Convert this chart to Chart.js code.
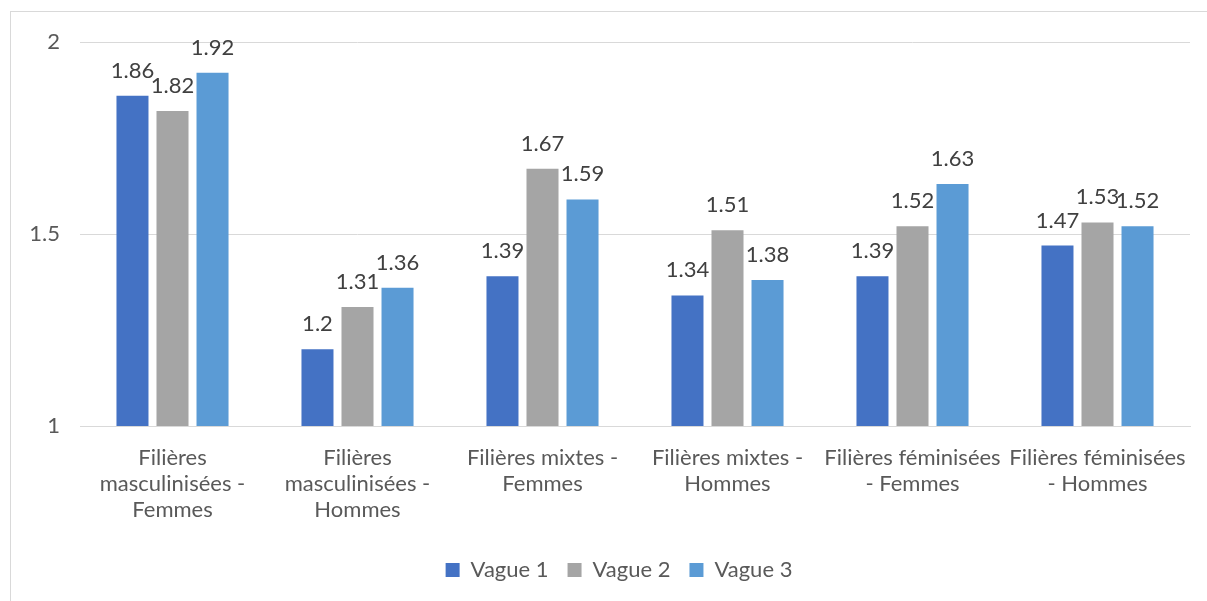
<!DOCTYPE html>
<html>
<head>
<meta charset="utf-8">
<script src="https://cdn.jsdelivr.net/npm/chart.js@4/dist/chart.umd.min.js"></script>
<style>
  html, body { margin: 0; padding: 0; background: #fff; }
  #wrap { width: 1207px; height: 601px; position: relative; }
</style>
</head>
<body>
<div id="wrap"><canvas id="myChart" width="1207" height="601"></canvas></div>
<script>
  const categories = [
    ['Filières', 'masculinisées -', 'Femmes'],
    ['Filières', 'masculinisées -', 'Hommes'],
    ['Filières mixtes -', 'Femmes'],
    ['Filières mixtes -', 'Hommes'],
    ['Filières féminisées', '- Femmes'],
    ['Filières féminisées', '- Hommes']
  ];
  const vague1 = [1.86, 1.2, 1.39, 1.34, 1.39, 1.47];
  const vague2 = [1.82, 1.31, 1.67, 1.51, 1.52, 1.53];
  const vague3 = [1.92, 1.36, 1.59, 1.38, 1.63, 1.52];
  const yTicks = [1, 1.5, 2];

  const fontFamily = 'Lato, "Open Sans", sans-serif';
  const fontSize = 22;

  // cadre gris autour du graphique
  const cadre = {
    id: 'cadre',
    beforeDraw(chart) {
      const ctx = chart.ctx;
      ctx.save();
      ctx.strokeStyle = '#d9d9d9';
      ctx.lineWidth = 1;
      ctx.strokeRect(10.5, 11.5, 1400, 800);
      ctx.restore();
    },
    // légende un peu décalée vers la droite
    afterLayout(chart) {
      chart.legend.left += 24;
      chart.legend.right += 24;
    }
  };

  // valeurs au-dessus des barres
  const etiquettes = {
    id: 'etiquettes',
    afterDatasetsDraw(chart) {
      const ctx = chart.ctx;
      ctx.save();
      ctx.font = fontSize + 'px ' + fontFamily;
      ctx.fillStyle = '#404040';
      ctx.textAlign = 'center';
      ctx.textBaseline = 'alphabetic';
      chart.data.datasets.forEach((ds, i) => {
        chart.getDatasetMeta(i).data.forEach((bar, j) => {
          ctx.fillText(String(ds.data[j]), bar.x, bar.y - 18);
        });
      });
      ctx.restore();
    }
  };

  const ctx = document.getElementById('myChart').getContext('2d');
  new Chart(ctx, {
    type: 'bar',
    data: {
      labels: categories,
      datasets: [
        { label: 'Vague 1', data: vague1, backgroundColor: '#4472C4' },
        { label: 'Vague 2', data: vague2, backgroundColor: '#A5A5A5' },
        { label: 'Vague 3', data: vague3, backgroundColor: '#5B9BD5' }
      ]
    },
    options: {
      responsive: false,
      animation: false,
      categoryPercentage: 0.649,
      barPercentage: 0.8,
      layout: { padding: { top: 42, right: 17, bottom: 10, left: 0 } },
      plugins: {
        legend: {
          position: 'bottom',
          labels: {
            boxWidth: 14,
            boxHeight: 14,
            padding: 19,
            color: '#595959',
            font: { family: fontFamily, size: fontSize }
          }
        },
        tooltip: { enabled: false }
      },
      scales: {
        x: {
          grid: { display: false, drawTicks: false },
          border: { color: '#d9d9d9' },
          ticks: {
            color: '#595959',
            font: { family: fontFamily, size: fontSize, lineHeight: 1.18 },
            maxRotation: 0,
            autoSkip: false,
            padding: 19
          },
          afterFit(scale) { scale.height = 114; }
        },
        y: {
          min: 1,
          max: 2,
          afterBuildTicks(scale) { scale.ticks = yTicks.map(v => ({ value: v })); },
          grid: { color: '#d9d9d9', drawTicks: false },
          border: { display: false },
          ticks: {
            color: '#595959',
            font: { family: fontFamily, size: fontSize },
            padding: 20,
            callback: v => String(v)
          },
          afterFit(scale) { scale.width = 80; }
        }
      }
    },
    plugins: [cadre, etiquettes]
  });
</script>
</body>
</html>
